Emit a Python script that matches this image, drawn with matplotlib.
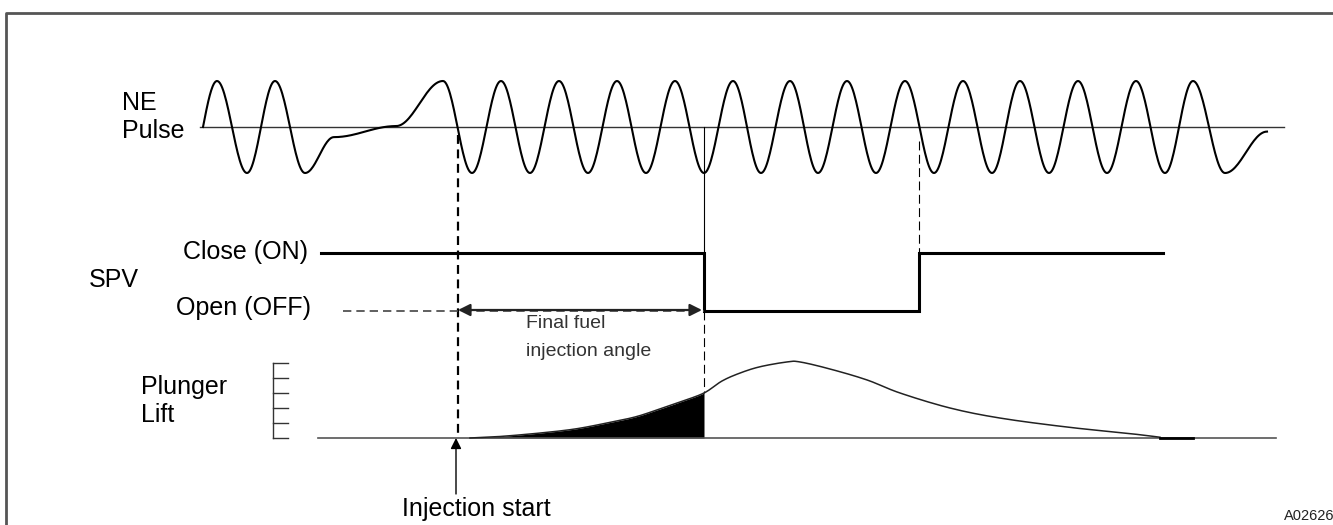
import numpy as np
import matplotlib.pyplot as plt

plt.rcParams['font.family'] = ['Liberation Sans', 'DejaVu Sans']

# crank position (drawing units) of NE pulse turning points and their level (+1 peak, -1 trough)
ne_x = [203, 217, 247, 275, 305, 334, 396, 443, 472, 501, 530, 559, 588, 617, 646,
        675, 704, 733, 761, 790, 818, 847, 876, 905, 934, 963, 992, 1020, 1049,
        1078, 1107, 1136, 1165, 1193, 1225, 1267]
ne_level = [0, 1, -1, 1, -1, -0.22, 0.02, 1, -1, 1, -1, 1, -1, 1, -1,
            1, -1, 1, -1, 1, -1, 1, -1, 1, -1, 1, -1, 1, -1,
            1, -1, 1, -1, 1, -1, -0.1]

# SPV state: 1 = Close (ON), 0 = Open (OFF)
spv_x = [321, 704, 704, 919, 919, 1163]
spv_state = [1, 1, 0, 0, 1, 1]

# plunger lift in scale divisions
lift_x = [470, 500, 540, 575, 607, 635, 657, 680, 704, 722, 740, 760, 787, 800,
          830, 867, 900, 950, 1000, 1067, 1133, 1160]
lift_val = [0, 0.1, 0.33, 0.6, 1.0, 1.4, 1.87, 2.4, 3.0, 3.8, 4.33, 4.75, 5.07, 5.07,
            4.6, 3.87, 3.0, 2.0, 1.33, 0.73, 0.27, 0.05]
lift_ticks = [0, 1, 2, 3, 4, 5]

inj_start = 458     # injection start
spv_close = 704     # SPV opens (end of injection)
spv_reopen = 919    # SPV closes again

# layout of the three traces
ne_base, ne_amp = 127, 46
spv_on, spv_off = 253, 311
lift_base, lift_step = 438, 15


def ne_y(lv):
    return ne_base - ne_amp * np.asarray(lv)


def lift_y(v):
    return lift_base - lift_step * np.asarray(v)


def catmull(xs, ys, n=12):
    # smooth curve through the readings
    px = np.r_[xs[0], xs, xs[-1]].astype(float)
    py = np.r_[ys[0], ys, ys[-1]].astype(float)
    ox, oy = [], []
    t = np.linspace(0, 1, n, endpoint=False)
    for i in range(1, len(px) - 2):
        for p, o in ((px, ox), (py, oy)):
            p0, p1, p2, p3 = p[i - 1], p[i], p[i + 1], p[i + 2]
            o.extend(0.5 * (2 * p1 + (p2 - p0) * t + (2 * p0 - 5 * p1 + 4 * p2 - p3) * t ** 2
                            + (3 * p1 - p0 - 3 * p2 + p3) * t ** 3))
    ox.append(xs[-1])
    oy.append(ys[-1])
    return np.array(ox), np.array(oy)


# smooth NE waveform: half-cosine between successive turning points
wx, wy = [], []
for i in range(len(ne_x) - 1):
    t = np.linspace(0, 1, 30)
    x0, x1 = ne_x[i], ne_x[i + 1]
    y0, y1 = ne_level[i], ne_level[i + 1]
    if i == 0:
        s = np.sin(np.pi * t / 2)
    else:
        s = (1 - np.cos(np.pi * t)) / 2
    wx.extend(x0 + (x1 - x0) * t)
    wy.extend(y0 + (y1 - y0) * s)

fig = plt.figure(figsize=(13.33, 5.25), dpi=100)
ax = fig.add_axes([0, 0, 1, 1])
ax.set_xlim(0, 1333)
ax.set_ylim(525, 0)
ax.axis('off')

# frame
ax.plot([6, 6, 1333], [525, 13, 13], color='#555555', lw=2, solid_capstyle='butt')

# NE pulse
ax.plot([200, 1284], [ne_base, ne_base], color='#333333', lw=1)
ax.plot(wx, ne_y(wy), color='black', lw=1.5)
ax.text(122, 103, 'NE', fontsize=18, va='center', ha='left')
ax.text(122, 131, 'Pulse', fontsize=18, va='center', ha='left')

# timing lines
ax.plot([inj_start, inj_start], [ne_base + 8, lift_base - 4], color='black', lw=1.6,
        linestyle=(0, (4, 2.5)))
ax.plot([spv_close, spv_close], [ne_base, spv_on], color='black', lw=0.8)
ax.plot([spv_close, spv_close], [spv_off, lift_y(3.0)], color='black', lw=0.8,
        linestyle=(0, (8, 4)))
ax.plot([spv_reopen, spv_reopen], [ne_base + 14, spv_on], color='black', lw=0.8,
        linestyle=(0, (8, 4)))

# SPV
spv_y = [spv_on if s else spv_off for s in spv_state]
ax.plot(spv_x, spv_y, color='black', lw=2.2, solid_joinstyle='miter')
ax.text(89, 280, 'SPV', fontsize=18, va='center', ha='left')
ax.text(308, 252, 'Close (ON)', fontsize=18, va='center', ha='right')
ax.text(311, 308, 'Open (OFF)', fontsize=18, va='center', ha='right')

# injection angle arrow
ax.plot([343, spv_close], [spv_off, spv_off], color='#444444', lw=1.2, linestyle=(0, (5, 3)))
ax.annotate('', xy=(spv_close - 2, spv_off - 1), xytext=(inj_start, spv_off - 1),
            arrowprops=dict(arrowstyle='<|-|>', color='#222222', lw=1.6,
                            mutation_scale=18, shrinkA=0, shrinkB=0))
ax.text(526, 323, 'Final fuel', fontsize=14, va='center', ha='left', color='#333333')
ax.text(526, 351, 'injection angle', fontsize=14, va='center', ha='left', color='#333333')

# plunger lift
ax.plot([318, 1276], [lift_base, lift_base], color='#555555', lw=1.2)
cx, cv = catmull(lift_x, lift_val)
cv = np.clip(cv, 0, None)
ax.plot(cx, lift_y(cv), color='#222222', lw=1.1)
inj = cx <= spv_close
ax.fill_between(cx[inj], lift_y(cv[inj]), lift_base, color='black', lw=0)
ax.plot([1160, 1193], [lift_base, lift_base], color='black', lw=2)
ax.plot([273, 273], [lift_y(lift_ticks[0]), lift_y(lift_ticks[-1])], color='#333333', lw=1)
for tk in lift_ticks:
    ax.plot([273, 288], [lift_y(tk), lift_y(tk)], color='#333333', lw=1)
ax.text(141, 387, 'Plunger', fontsize=18, va='center', ha='left')
ax.text(141, 415, 'Lift', fontsize=18, va='center', ha='left')

# injection start pointer
ax.annotate('', xy=(456, lift_base), xytext=(456, 494),
            arrowprops=dict(arrowstyle='-|>', color='black', lw=1,
                            mutation_scale=16, shrinkA=0, shrinkB=0))
ax.text(476, 509, 'Injection start', fontsize=18, va='center', ha='center')

ax.text(1284, 516, 'A02626', fontsize=10.5, va='center', ha='left', color='#222222')

fig.savefig('out.png', dpi=100)
